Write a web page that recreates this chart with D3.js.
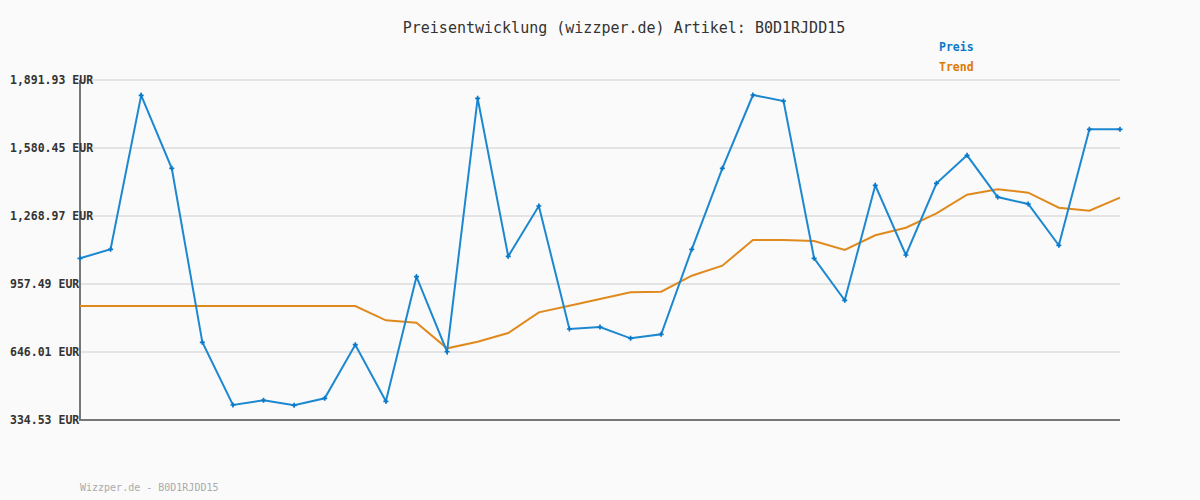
<!DOCTYPE html>
<html><head><meta charset="utf-8">
<script src="https://cdn.jsdelivr.net/npm/d3@7"></script>
<style>
html,body{margin:0;padding:0;background:#fafafa;}
svg{display:block;}
text{font-family:"DejaVu Sans Mono",monospace;}
</style></head>
<body>
<svg id="chart" width="1200" height="500"></svg>
<script>
const titleText = "Preisentwicklung (wizzper.de) Artikel: B0D1RJDD15";
const footerText = "Wizzper.de - B0D1RJDD15";
const seriesNames = ["Preis", "Trend"];
const yTicks = [334.53, 646.01, 957.49, 1268.97, 1580.45, 1891.93];
const preis = [1075.2, 1116.4, 1821.8, 1487.4, 690.4, 403.2, 424.7, 401.8, 433.9, 679.4,
  420.2, 990.9, 647.3, 1808.1, 1084.3, 1314.8, 751.3, 760.5, 708.7, 727.1,
  1116.4, 1487.4, 1823.2, 1795.7, 1075.2, 882.8, 1409.6, 1090.3, 1418.7, 1547.0,
  1356.0, 1323.9, 1134.7, 1666.1, 1666.1];
const trend = [856.7, 856.7, 856.7, 856.7, 856.7, 856.7, 856.7, 856.7, 856.7, 856.7,
  791.2, 780.2, 662.9, 693.1, 733.0, 827.8, 858.1, 888.7, 919.4, 922.2,
  995.5, 1041.3, 1159.0, 1159.0, 1154.4, 1113.2, 1180.5, 1215.3, 1281.3, 1366.5,
  1391.2, 1375.7, 1306.9, 1293.2, 1352.8];

const svg = d3.select("#chart");
const x = d3.scaleLinear().domain([0, preis.length - 1]).range([80, 1120]);
const y = d3.scaleLinear().domain([334.53, 1891.93]).range([420, 80]);
const fmt = d3.format(",.2f");

// grid
svg.append("g").selectAll("line").data(yTicks).join("line")
  .attr("x1", 80).attr("x2", 1120)
  .attr("y1", d => y(d)).attr("y2", d => y(d))
  .attr("stroke", "#e4e4e4").attr("stroke-width", 2);

// axes lines
svg.append("line").attr("x1", 80).attr("x2", 80).attr("y1", y(1891.93)).attr("y2", y(334.53) + 1)
  .attr("stroke", "#777").attr("stroke-width", 2);
svg.append("line").attr("x1", 79).attr("x2", 1120).attr("y1", y(334.53)).attr("y2", y(334.53))
  .attr("stroke", "#777").attr("stroke-width", 2);

// y labels
svg.append("g").selectAll("text").data(yTicks).join("text")
  .attr("x", 10).attr("y", d => y(d) + 4)
  .attr("font-size", "11.5px").attr("font-weight", "bold").attr("fill", "#333")
  .text(d => fmt(d) + " EUR");

const line = d3.line().x((d, i) => x(i)).y(d => y(d));

svg.append("path").datum(trend).attr("d", line)
  .attr("fill", "none").attr("stroke", "#e08a1e").attr("stroke-width", 2);
svg.append("path").datum(preis).attr("d", line)
  .attr("fill", "none").attr("stroke", "#1c88d0").attr("stroke-width", 2);

// markers
const sym = d3.symbol().type(d3.symbolCross).size(14);
svg.append("g").selectAll("path").data(preis).join("path")
  .attr("transform", (d, i) => `translate(${x(i)},${y(d)})`)
  .attr("d", sym).attr("fill", "#0a78c8");

// title
svg.append("text").attr("x", 624).attr("y", 33).attr("text-anchor", "middle")
  .attr("font-size", "15px").attr("fill", "#333").text(titleText);

// legend
const legendColors = ["#0a78c8", "#e07800"];
svg.append("g").selectAll("text").data(seriesNames).join("text")
  .attr("x", 939).attr("y", (d, i) => 51 + i * 20)
  .attr("font-size", "11.5px").attr("font-weight", "bold")
  .attr("fill", (d, i) => legendColors[i]).text(d => d);

// footer
svg.append("text").attr("x", 80).attr("y", 491)
  .attr("font-size", "10px").attr("fill", "#aaa").text(footerText);
</script>
</body></html>
